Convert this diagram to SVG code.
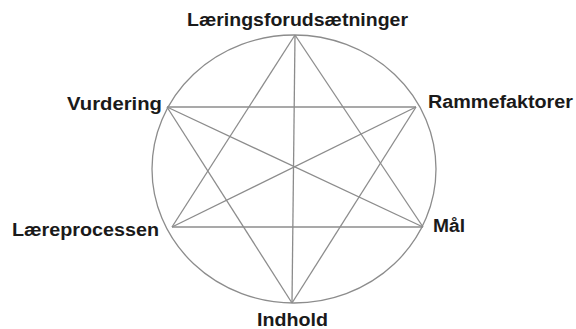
<svg xmlns="http://www.w3.org/2000/svg" width="576" height="329" viewBox="0 0 576 329">
<style>
.lbl{font-family:"Liberation Sans",Arial,sans-serif;font-weight:bold;font-size:18px;fill:#1a1a1a}
.ln{stroke:#8c8c8c;stroke-width:1.3;fill:none}
</style>
<rect width="576" height="329" fill="#ffffff"/>
<ellipse id="ring" class="ln" cx="294" cy="169" rx="142" ry="134"/>
<g id="connectors">
<line class="ln" x1="295" y1="35" x2="172" y2="227"/>
<line class="ln" x1="295" y1="35" x2="423" y2="227"/>
<line class="ln" x1="172" y1="227" x2="423" y2="227"/>
<line class="ln" x1="167" y1="107" x2="416" y2="107"/>
<line class="ln" x1="167" y1="107" x2="292" y2="303"/>
<line class="ln" x1="416" y1="107" x2="292" y2="303"/>
<line class="ln" x1="295" y1="35" x2="292" y2="303"/>
<line class="ln" x1="167" y1="107" x2="423" y2="227"/>
<line class="ln" x1="416" y1="107" x2="172" y2="227"/>
</g>
<g id="laeringsforudsaetninger"><text class="lbl" x="187" y="26" textLength="221" lengthAdjust="spacingAndGlyphs">Læringsforudsætninger</text></g>
<g id="vurdering"><text class="lbl" x="67" y="110" textLength="95" lengthAdjust="spacingAndGlyphs">Vurdering</text></g>
<g id="rammefaktorer"><text class="lbl" x="428" y="108" textLength="145" lengthAdjust="spacingAndGlyphs">Rammefaktorer</text></g>
<g id="laereprocessen"><text class="lbl" x="12" y="236" textLength="147" lengthAdjust="spacingAndGlyphs">Læreprocessen</text></g>
<g id="maal"><text class="lbl" x="433" y="232" textLength="32" lengthAdjust="spacingAndGlyphs">Mål</text></g>
<g id="indhold"><text class="lbl" x="257" y="326" textLength="71" lengthAdjust="spacingAndGlyphs">Indhold</text></g>
</svg>
